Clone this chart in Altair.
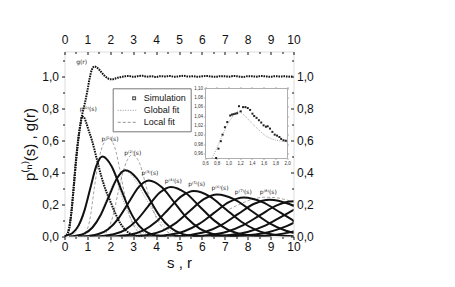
import altair as alt
import pandas as pd

FONT = "Liberation Sans"
LAB_FONT = "DejaVu Sans"

# ---------------- main panel data ----------------
g_r = [0.0, 0.1, 0.2, 0.3, 0.4, 0.5, 0.6, 0.7, 0.8, 0.9, 1.0, 1.1, 1.2, 1.3, 1.4, 1.5, 1.6, 1.7, 1.8, 1.9,
       2.0, 2.1, 2.2, 2.3, 2.4,
       2.6, 2.8, 3.0, 3.2, 3.4, 3.6, 3.8, 4.0, 4.2, 4.4, 4.6, 4.8, 5.0, 5.2, 5.4, 5.6, 5.8, 6.0, 6.2, 6.4,
       6.6, 6.8, 7.0, 7.2, 7.4, 7.6, 7.8, 8.0, 8.2, 8.4, 8.6, 8.8, 9.0, 9.2, 9.4, 9.6, 9.8, 10.0]
g_val = [0.0, 0.01, 0.05, 0.15, 0.31, 0.48, 0.61, 0.71, 0.78, 0.84, 0.91, 0.99, 1.045, 1.062, 1.058, 1.045,
         1.028, 1.012, 0.998, 0.988, 0.982, 0.982, 0.986, 0.991, 0.995,
         1.000, 1.003, 0.998, 1.002, 1.004, 0.999, 1.001, 0.997, 1.002, 1.000, 1.003, 0.998, 1.001, 1.004,
         0.999, 1.002, 0.998, 1.001, 1.003, 1.000, 0.998, 1.002, 1.001, 0.999, 1.003, 1.000, 0.997, 1.002,
         1.001, 0.999, 1.003, 1.000, 0.998, 1.002, 1.000, 1.001, 0.999, 1.000]

p0_s = [0.0, 0.1, 0.2, 0.3, 0.4, 0.5, 0.6, 0.7, 0.77, 0.85, 0.95, 1.05, 1.2, 1.4, 1.6, 1.8, 2.0, 2.2, 2.45,
        2.7, 3.0, 3.4]
p0_val = [0.0, 0.01, 0.05, 0.15, 0.30, 0.46, 0.60, 0.70, 0.75, 0.745, 0.71, 0.665, 0.60, 0.49, 0.38, 0.29,
          0.22, 0.15, 0.08, 0.035, 0.01, 0.0]

# higher-order neighbour distributions p^(n)(s), n = 1..12  (simulation, thick curves)
pn_s = {
    1: [0.0, 0.09, 0.35, 0.61, 0.87, 1.13, 1.39, 1.65, 2.05, 2.45, 2.85, 3.25, 3.65, 4.05, 4.45],
    2: [0.2, 0.50, 0.86, 1.22, 1.58, 1.94, 2.30, 2.66, 3.15, 3.64, 4.13, 4.62, 5.11, 5.60, 6.09],
    3: [0.6, 1.04, 1.48, 1.92, 2.36, 2.80, 3.24, 3.68, 4.24, 4.80, 5.36, 5.92, 6.48, 7.04, 7.60],
    4: [1.1, 1.65, 2.15, 2.65, 3.15, 3.65, 4.15, 4.65, 5.28, 5.90, 6.53, 7.15, 7.78, 8.40, 9.03],
    5: [1.8, 2.35, 2.90, 3.45, 4.00, 4.55, 5.10, 5.65, 6.34, 7.03, 7.72, 8.41, 9.10, 9.79, 10.48],
    6: [2.4, 3.07, 3.67, 4.27, 4.87, 5.47, 6.07, 6.67, 7.42, 8.17, 8.92, 9.67, 10.42, 11.17],
    7: [3.2, 3.93, 4.58, 5.23, 5.88, 6.53, 7.18, 7.83, 8.64, 9.45, 10.26, 11.07],
    8: [4.0, 4.81, 5.50, 6.19, 6.88, 7.57, 8.26, 8.95, 9.81, 10.67],
    9: [4.8, 5.62, 6.35, 7.08, 7.81, 8.54, 9.27, 10.0, 10.9],
    10: [5.6, 6.46, 7.23, 7.99, 8.76, 9.52, 10.29, 11.05],
    11: [6.4, 7.3, 8.1, 8.9, 9.7, 10.5, 11.3],
    12: [7.2, 8.17, 9.0, 9.83, 10.66],
}
pn_val = {
    1: [0.0, 0.006, 0.022, 0.068, 0.162, 0.303, 0.441, 0.50, 0.441, 0.303, 0.162, 0.068, 0.022, 0.006, 0.001],
    2: [0.0, 0.0046, 0.0182, 0.056, 0.134, 0.251, 0.365, 0.414, 0.365, 0.251, 0.134, 0.056, 0.0182, 0.0046, 0.0009],
    3: [0.0, 0.0039, 0.0154, 0.0474, 0.1136, 0.2123, 0.3089, 0.35, 0.3089, 0.2123, 0.1136, 0.0474, 0.0154, 0.0039, 0.0008],
    4: [0.0, 0.0034, 0.0136, 0.0419, 0.1007, 0.188, 0.2736, 0.31, 0.2736, 0.188, 0.1007, 0.0419, 0.0136, 0.0034, 0.0007],
    5: [0.0, 0.0032, 0.0125, 0.0384, 0.0922, 0.1722, 0.2506, 0.284, 0.2506, 0.1722, 0.0922, 0.0384, 0.0125, 0.0032, 0.0006],
    6: [0.0, 0.0029, 0.0115, 0.0356, 0.0854, 0.1595, 0.2321, 0.263, 0.2321, 0.1595, 0.0854, 0.0356, 0.0115, 0.0029],
    7: [0.0, 0.0027, 0.0107, 0.0329, 0.0789, 0.1474, 0.2144, 0.243, 0.2144, 0.1474, 0.0789, 0.0329],
    8: [0.0, 0.0026, 0.0101, 0.0311, 0.0747, 0.1395, 0.203, 0.23, 0.203, 0.1395],
    9: [0.0, 0.0024, 0.0097, 0.0298, 0.0714, 0.1334, 0.1942, 0.22, 0.1942],
    10: [0.0, 0.0023, 0.0092, 0.0284, 0.0682, 0.1274, 0.1853, 0.21],
    11: [0.0, 0.0022, 0.0088, 0.0271, 0.0649, 0.1213, 0.1765],
    12: [0.0, 0.0021, 0.0083, 0.0257, 0.0617],
}

# fits (thin grey)
global_s = {
    1: [0.2, 0.5, 0.8, 1.1, 1.35, 1.55, 1.75, 2.0, 2.3, 2.6, 2.9, 3.3, 3.8],
    2: [0.6, 1.0, 1.4, 1.8, 2.1, 2.4, 2.6, 2.8, 3.1, 3.5, 3.9, 4.4, 5.0],
    3: [1.2, 1.7, 2.2, 2.7, 3.1, 3.4, 3.65, 3.9, 4.3, 4.8, 5.3, 5.9, 6.6],
}
global_val = {
    1: [0.0, 0.03, 0.12, 0.28, 0.42, 0.49, 0.50, 0.45, 0.34, 0.21, 0.11, 0.04, 0.01],
    2: [0.0, 0.02, 0.09, 0.22, 0.32, 0.39, 0.41, 0.40, 0.35, 0.25, 0.15, 0.06, 0.015],
    3: [0.0, 0.02, 0.08, 0.19, 0.28, 0.33, 0.345, 0.34, 0.30, 0.21, 0.12, 0.05, 0.01],
}
local_s = {
    1: [0.9, 1.1, 1.3, 1.45, 1.6, 1.8, 1.95, 2.1, 2.25, 2.4, 2.6, 2.8, 3.1, 3.4],
    2: [1.8, 2.1, 2.35, 2.55, 2.75, 2.95, 3.1, 3.3, 3.5, 3.75, 4.0, 4.4, 4.8],
    8: [7.2, 7.7, 8.2, 8.7, 9.2, 9.7, 10.2],
}
local_val = {
    1: [0.02, 0.10, 0.30, 0.44, 0.54, 0.60, 0.61, 0.59, 0.53, 0.43, 0.28, 0.15, 0.05, 0.01],
    2: [0.02, 0.12, 0.28, 0.40, 0.48, 0.51, 0.50, 0.45, 0.35, 0.22, 0.12, 0.04, 0.01],
    8: [0.17, 0.205, 0.232, 0.245, 0.243, 0.228, 0.205],
}

# curve labels
lab_text = ["g(r)", "p⁽⁰⁾(s)", "p⁽¹⁾(s)", "p⁽²⁾(s)", "p⁽³⁾(s)", "p⁽⁴⁾(s)", "p⁽⁵⁾(s)",
            "p⁽⁶⁾(s)", "p⁽⁷⁾(s)", "p⁽⁸⁾(s)"]
lab_x = [0.75, 1.04, 1.99, 2.98, 3.73, 4.75, 5.77, 6.79, 7.81, 8.90]
lab_y = [1.089, 0.795, 0.607, 0.52, 0.395, 0.349, 0.328, 0.301, 0.28, 0.28]

# axes
x_major = [0, 1, 2, 3, 4, 5, 6, 7, 8, 9, 10]
x_minor = [0.5, 1.5, 2.5, 3.5, 4.5, 5.5, 6.5, 7.5, 8.5, 9.5]
y_major = [0.0, 0.2, 0.4, 0.6, 0.8, 1.0]
y_minor = [0.1, 0.3, 0.5, 0.7, 0.9, 1.1]
X_DOM = [0, 10]
Y_DOM = [0, 1.156]

kinds = ["Simulation", "Global fit", "Local fit"]

# ---------------- inset data ----------------
in_sim_x = [0.79, 0.83, 0.87, 0.90, 0.94, 0.98, 1.03, 1.06, 1.09, 1.12, 1.15, 1.18, 1.21, 1.25, 1.29, 1.33,
            1.37, 1.41, 1.44, 1.48, 1.52, 1.56, 1.60, 1.64, 1.67, 1.71, 1.75, 1.79, 1.83, 1.87, 1.90, 1.94, 1.98]
in_sim_y = [0.950, 0.970, 0.986, 1.000, 1.016, 1.027, 1.041, 1.043, 1.044, 1.045, 1.046, 1.061, 1.050, 1.059,
            1.059, 1.057, 1.053, 1.045, 1.040, 1.036, 1.031, 1.026, 1.020, 1.017, 1.018, 1.013, 1.006, 1.000,
            0.998, 0.995, 0.991, 0.988, 0.987]
in_fit_x = [0.72, 0.78, 0.85, 0.92, 1.00, 1.08, 1.16, 1.24, 1.32, 1.42, 1.52, 1.62, 1.72, 1.82, 1.92, 2.00]
in_fit_y = [0.950, 0.965, 0.985, 1.005, 1.025, 1.040, 1.050, 1.045, 1.035, 1.022, 1.010, 0.999, 0.992, 0.988,
            0.986, 0.985]
in_x_major = [0.6, 0.8, 1.0, 1.2, 1.4, 1.6, 1.8, 2.0]
in_y_major = [0.96, 0.98, 1.00, 1.02, 1.04, 1.06, 1.08, 1.10]
IN_X_DOM = [0.6, 2.0]
IN_Y_DOM = [0.95, 1.10]

# ---------------- layout ----------------
W, H = 229, 185
IN_LEFT, IN_RIGHT, IN_TOP, IN_BOTTOM = 140.5, 222.5, 36.5, 106.5


def comma(fmt):
    return f"replace(format(datum.value, '{fmt}'), '.', ',')"


xs = alt.Scale(domain=X_DOM, nice=False, zero=False)
ys = alt.Scale(domain=Y_DOM, nice=False, zero=False)

# data frames
df_g = pd.DataFrame({"x": g_r, "y": g_val, "curve": "g"})
df_p0 = pd.DataFrame({"x": p0_s, "y": p0_val, "curve": "p0"})
df_sim_dot = pd.concat([df_g, df_p0])
df_pn = pd.concat([pd.DataFrame({"x": pn_s[n], "y": pn_val[n], "curve": f"p{n}"}) for n in pn_s])
df_glob = pd.concat([pd.DataFrame({"x": global_s[n], "y": global_val[n], "curve": f"g{n}"}) for n in global_s])
df_loc = pd.concat([pd.DataFrame({"x": local_s[n], "y": local_val[n], "curve": f"l{n}"}) for n in local_s])
df_lab = pd.DataFrame({"x": lab_x, "y": lab_y, "t": lab_text})
df_leg = pd.DataFrame({"x": [-5, -5, -5], "y": [-5, -5, -5], "kind": kinds})
carrier = pd.DataFrame({"x": [0.0], "y": [0.0]})


def enc(ch, sx=xs, sy=ys):
    return ch.encode(x=alt.X("x:Q", scale=sx, axis=None), y=alt.Y("y:Q", scale=sy, axis=None))


base_ax = dict(labelFont=FONT, titleFont=FONT, grid=False, domain=False, tickColor="#111",
               labelColor="#111", tickWidth=1, labelOverlap=False, labelFlush=False)

ax_bottom = alt.Axis(orient="bottom", values=x_major, format="d", labelFontSize=12, tickSize=3,
                     labelPadding=2, title="s , r", titleFontSize=15, titleFontWeight="normal",
                     titlePadding=3, titleColor="#111", **base_ax)
ax_left = alt.Axis(orient="left", values=y_major, labelExpr=comma(".1f"), labelFontSize=12, tickSize=3,
                   labelPadding=3, title="p⁽ⁿ⁾(s) , g(r)", titleFontSize=15, titleFontWeight="normal",
                   titlePadding=4, titleColor="#111", **base_ax)
ax_top = alt.Axis(orient="top", values=x_major, format="d", labelFontSize=12, tickSize=3, offset=-3,
                  labelPadding=5.5, title=None, **base_ax)
ax_right = alt.Axis(orient="right", values=y_major, labelExpr=comma(".1f"), labelFontSize=12, tickSize=3,
                    offset=-3, labelPadding=3, title=None, **base_ax)
ax_bottom_m = alt.Axis(orient="bottom", values=x_minor, labels=False, tickSize=2, title=None, **base_ax)
ax_left_m = alt.Axis(orient="left", values=y_minor, labels=False, tickSize=2, title=None, **base_ax)
ax_top_m = alt.Axis(orient="top", values=x_minor, labels=False, tickSize=2, offset=-2, title=None, **base_ax)
ax_right_m = alt.Axis(orient="right", values=y_minor, labels=False, tickSize=2, offset=-2, title=None, **base_ax)


def axis_layer(ax_x, ax_y, sx=xs, sy=ys):
    return alt.Chart(carrier).mark_point(opacity=0).encode(
        x=alt.X("x:Q", scale=sx, axis=ax_x), y=alt.Y("y:Q", scale=sy, axis=ax_y))


# legend (real Vega legend, merged over colour/shape/dash)
sq_path = "M2.0,-0.28H2.56V0.28H2.0Z"
ln_path = "M-1,0H3"
leg = alt.Legend(orient="none", legendX=48.2, legendY=36.8, title=None, padding=4, rowPadding=1,
                 labelOffset=15, labelFont=FONT, labelFontSize=9, labelColor="#111", symbolSize=100,
                 symbolStrokeWidth=1.2, strokeColor="#777", fillColor="white")
legend_layer = alt.Chart(df_leg).mark_point(size=100, filled=False, strokeWidth=1.2, clip=True).encode(
    x=alt.X("x:Q", scale=xs, axis=None),
    y=alt.Y("y:Q", scale=ys, axis=None),
    color=alt.Color("kind:N", scale=alt.Scale(domain=kinds, range=["#111", "#888", "#888"]), legend=leg),
    shape=alt.Shape("kind:N", scale=alt.Scale(domain=kinds, range=[sq_path, ln_path, ln_path]), legend=leg),
    strokeDash=alt.StrokeDash("kind:N", scale=alt.Scale(domain=kinds, range=[[1, 0], [1, 1.5], [3, 2]]),
                              legend=leg),
)

glob_layer = enc(alt.Chart(df_glob).mark_line(color="#8c8c8c", strokeWidth=0.8, strokeDash=[1, 1.5],
                                               interpolate="monotone", clip=True)).encode(detail="curve:N")
loc_layer = enc(alt.Chart(df_loc).mark_line(color="#8c8c8c", strokeWidth=0.8, strokeDash=[3, 2],
                                             interpolate="monotone", clip=True)).encode(detail="curve:N")
pn_layer = enc(alt.Chart(df_pn).mark_line(color="#111", strokeWidth=2, interpolate="monotone",
                                           clip=True)).encode(detail="curve:N")
dot_layer = enc(alt.Chart(df_sim_dot).mark_line(color="#111", strokeWidth=2, strokeDash=[1.6, 0.9],
                                                 interpolate="monotone", clip=True)).encode(detail="curve:N")
lab_layer = enc(alt.Chart(df_lab).mark_text(font=LAB_FONT, fontSize=6, fill="#222")).encode(text="t:N")

main = alt.layer(
    axis_layer(ax_bottom, ax_left),
    axis_layer(ax_top, ax_right),
    axis_layer(ax_bottom_m, ax_left_m),
    axis_layer(ax_top_m, ax_right_m),
    glob_layer, loc_layer, pn_layer, dot_layer, lab_layer, legend_layer,
).resolve_axis(x="independent", y="independent")

# ---------------- inset ----------------
xi = alt.Scale(domain=IN_X_DOM, range=[IN_LEFT, IN_RIGHT], nice=False, zero=False)
yi = alt.Scale(domain=IN_Y_DOM, range=[IN_BOTTOM, IN_TOP], nice=False, zero=False)

in_ax = dict(labelFont=FONT, grid=False, domain=True, domainColor="#9a9a9a", domainWidth=0.8,
             tickColor="#777", tickWidth=0.6, tickSize=1.5, labelColor="#333", labelFontSize=4.5,
             labelOverlap=False, labelFlush=False, title=None)
in_bottom = alt.Axis(orient="bottom", values=in_x_major, labelExpr=comma(".1f"), offset=-(H - IN_BOTTOM),
                     labelPadding=1, **in_ax)
in_left = alt.Axis(orient="left", values=in_y_major, labelExpr=comma(".2f"), offset=-IN_LEFT,
                   labelPadding=1, **in_ax)
in_top = alt.Axis(orient="top", values=in_x_major, labels=False, offset=-IN_TOP, **in_ax)
in_right = alt.Axis(orient="right", values=in_y_major, labels=False, offset=-(W - IN_RIGHT), **in_ax)

df_in_sim = pd.DataFrame({"x": in_sim_x, "y": in_sim_y})
df_in_fit = pd.DataFrame({"x": in_fit_x, "y": in_fit_y})

inset = alt.layer(
    axis_layer(in_bottom, in_left, xi, yi),
    axis_layer(in_top, in_right, xi, yi),
    enc(alt.Chart(df_in_fit).mark_line(color="#8c8c8c", strokeWidth=0.8, strokeDash=[1, 1.3],
                                        interpolate="monotone"), xi, yi),
    enc(alt.Chart(df_in_sim).mark_square(size=4, color="#222", opacity=1), xi, yi),
).resolve_axis(x="independent", y="independent")

chart = alt.layer(main, inset).resolve_scale(x="independent", y="independent").properties(
    width=W, height=H,
    autosize=alt.AutoSizeParams(type="none"),
    padding={"left": 56.5, "top": 43.5, "right": 150, "bottom": 40},
).configure_view(stroke="#111", strokeWidth=1.3).configure(background="white")

chart.save("out.html", embed_options={"renderer": "svg", "actions": False})
